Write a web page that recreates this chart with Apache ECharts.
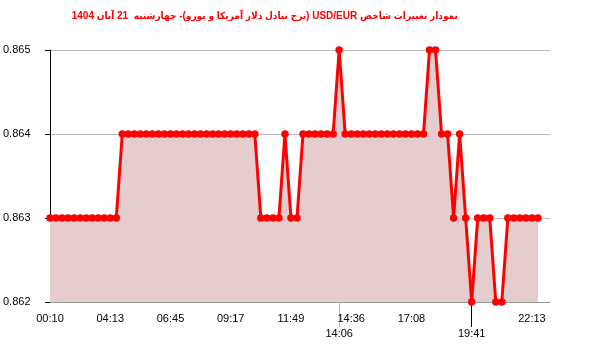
<!DOCTYPE html>
<html>
<head>
<meta charset="utf-8">
<script src="https://cdn.jsdelivr.net/npm/echarts@6/dist/echarts.min.js"></script>
<style>html,body{margin:0;padding:0;background:#fff}#c{width:600px;height:352px}</style>
</head>
<body>
<div id="c" dir="rtl"></div>
<script>
var titleText = 'نمودار تغییرات شاخص USD/EUR (نرخ تبادل دلار آمریکا و یورو)- چهارشنبه  21 آبان 1404';
var times = [
 '00:10','01:58','02:13','02:28','02:43','02:58','03:13','03:28','03:43','03:58',
 '04:13','04:28','04:43','04:58','05:13','05:28','05:43','05:58','06:14','06:30',
 '06:45','07:00','07:15','07:30','07:45','08:00','08:16','08:31','08:46','09:02',
 '09:17','09:32','09:47','10:02','10:17','10:32','10:48','11:03','11:18','11:34',
 '11:49','12:06','12:23','12:40','12:57','13:14','13:32','13:49','14:06','14:21',
 '14:36','14:51','15:06','15:21','15:36','15:52','16:07','16:22','16:37','16:52',
 '17:08','17:23','17:38','17:53','18:08','18:24','18:39','18:54','19:10','19:25',
 '19:41','19:56','20:11','20:26','20:41','20:57','21:12','21:27','21:42','21:57',
 '22:13','22:28'
];
var values = [
 0.863,0.863,0.863,0.863,0.863,0.863,0.863,0.863,0.863,0.863,
 0.863,0.863,0.864,0.864,0.864,0.864,0.864,0.864,0.864,0.864,
 0.864,0.864,0.864,0.864,0.864,0.864,0.864,0.864,0.864,0.864,
 0.864,0.864,0.864,0.864,0.864,0.863,0.863,0.863,0.863,0.864,
 0.863,0.863,0.864,0.864,0.864,0.864,0.864,0.864,0.865,0.864,
 0.864,0.864,0.864,0.864,0.864,0.864,0.864,0.864,0.864,0.864,
 0.864,0.864,0.864,0.865,0.865,0.864,0.864,0.863,0.864,0.863,
 0.862,0.863,0.863,0.863,0.862,0.862,0.863,0.863,0.863,0.863,
 0.863,0.863
];
var yTicks = [0.862, 0.863, 0.864, 0.865];
var maxLabel = '14:06';
var minLabel = '19:41';
// the axis runs a little past the last reading
var axisCats = times.concat(['', '']);

var maxIdx = times.indexOf(maxLabel);
var minIdx = times.indexOf(minLabel);
var regular = function (i) { return i % 10 === 0 && i !== minIdx && i < times.length; };
var font = 'Liberation Sans, Arial, DejaVu Sans, sans-serif';
var titleFont = 'Liberation Sans, DejaVu Sans Condensed, DejaVu Sans, sans-serif';

var chart = echarts.init(document.getElementById('c'), null, {renderer: 'canvas'});
chart.setOption({
  animation: false,
  backgroundColor: '#fff',
  title: {
    text: titleText,
    right: 137, top: 6,
    textStyle: {color: '#ff0000', fontSize: 10, fontWeight: 'bold', fontFamily: titleFont}
  },
  grid: {left: 50, right: 50, top: 50, bottom: 50, containLabel: false},
  xAxis: [{
    type: 'category', data: axisCats, boundaryGap: false, position: 'bottom',
    axisLine: {show: true, lineStyle: {color: '#999', width: 1}},
    axisTick: {show: true, inside: true, length: 5, interval: regular, lineStyle: {color: '#000'}},
    axisLabel: {interval: regular, margin: 11, color: '#000', fontSize: 11, fontFamily: font},
    splitLine: {show: false}
  }, {
    type: 'category', data: axisCats, boundaryGap: false, position: 'bottom', offset: 0,
    axisLine: {show: false},
    axisTick: {show: true, inside: false, length: 25, interval: function (i) { return i === maxIdx; }, lineStyle: {color: '#bbb'}},
    axisLabel: {interval: function (i) { return i === maxIdx; }, margin: 26, color: '#000', fontSize: 11, fontFamily: font},
    splitLine: {show: true, interval: function (i) { return i === maxIdx; }, lineStyle: {color: '#bbb', width: 1}}
  }, {
    type: 'category', data: axisCats, boundaryGap: false, position: 'bottom', offset: 0,
    axisLine: {show: false},
    axisTick: {show: true, inside: false, length: 25, interval: function (i) { return i === minIdx; }, lineStyle: {color: '#000'}},
    axisLabel: {interval: function (i) { return i === minIdx; }, margin: 26, color: '#000', fontSize: 11, fontFamily: font},
    splitLine: {show: false}
  }],
  yAxis: {
    type: 'value', min: yTicks[0], max: yTicks[yTicks.length - 1], interval: 0.001,
    axisLine: {show: true, lineStyle: {color: '#000'}},
    axisTick: {show: true, inside: false, length: 5, lineStyle: {color: '#000'}},
    axisLabel: {align: 'left', margin: 47, color: '#000', fontSize: 11, fontFamily: font,
      padding: [0, 0, 6, 0], formatter: function (v) { return v.toFixed(3); }},
    splitLine: {show: true, lineStyle: {color: '#bbb', width: 1}}
  },
  series: [{
    type: 'line', data: values, xAxisIndex: 0,
    symbol: 'circle', symbolSize: 7.5, showAllSymbol: true,
    itemStyle: {color: '#ff0000'},
    lineStyle: {color: '#ff0000', width: 3},
    areaStyle: {color: '#e6cdcd', opacity: 1},
    z: 3
  }]
});
</script>
</body>
</html>
